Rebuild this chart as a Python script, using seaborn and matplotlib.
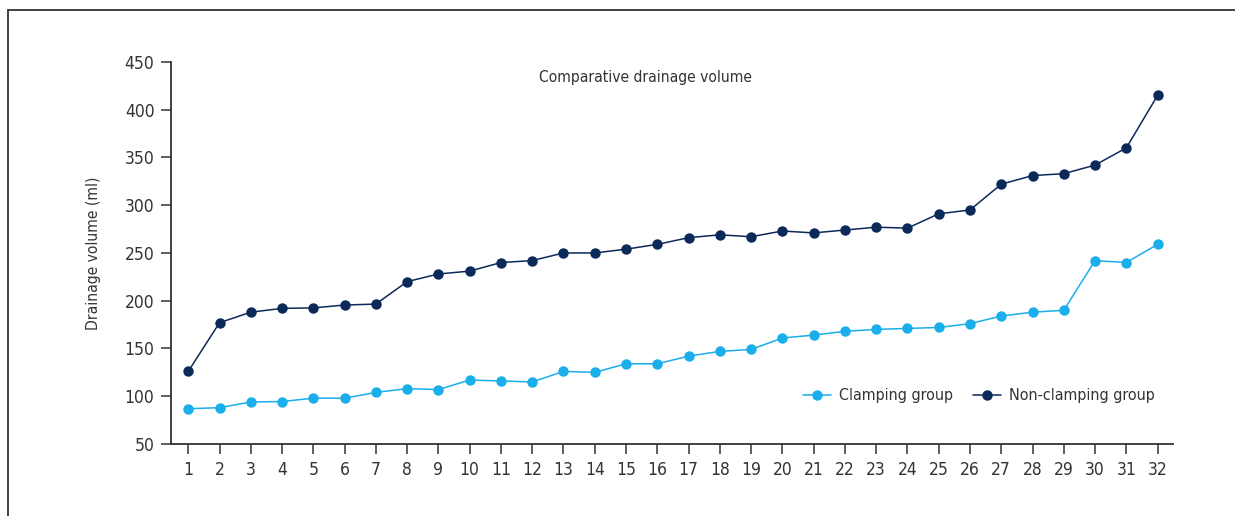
import matplotlib

matplotlib.use('Agg')
import matplotlib.pyplot as plt
import pandas as pd
import seaborn as sns
from matplotlib.lines import Line2D

patients = list(range(1, 33))
clamping = [87, 88, 94, 94.5, 98, 98, 104, 108, 107, 117, 116, 115, 126, 125, 134, 134,
            142, 147, 149, 161, 164, 168, 170, 171, 172, 176, 184, 188, 190, 242, 240, 259]
non_clamping = [126, 177, 188, 192, 192.5, 195.5, 196.5, 220, 228, 231, 240, 242, 250, 250, 254, 259,
                266, 269, 267, 273, 271, 274, 277, 276, 291, 295, 322, 331, 333, 342, 360, 415]
group_names = ['Clamping group', 'Non-clamping group']
colors = ['#1aaeea', '#0b2a5a']
y_ticks = [50, 100, 150, 200, 250, 300, 350, 400, 450]

df = pd.DataFrame({
    'patient': patients * 2,
    'volume': clamping + non_clamping,
    'group': [group_names[0]] * len(patients) + [group_names[1]] * len(patients),
})

sns.set_style('white')
plt.rcParams['font.family'] = ['DejaVu Sans']
plt.rcParams['font.stretch'] = 'condensed'
text_color = '#333333'

fig = plt.figure(figsize=(12.35, 5.16), dpi=100)
ax = fig.add_axes([0.1385, 0.1395, 0.8115, 0.7405])

sns.lineplot(data=df, x='patient', y='volume', hue='group', palette=colors,
             marker='o', markersize=7.5, markeredgewidth=0, linewidth=1.1, ax=ax, legend=False)

ax.set_xlim(0.45, 32.5)
ax.set_ylim(50, 450)
ax.set_xticks(patients)
ax.set_yticks(y_ticks)
ax.tick_params(axis='both', direction='out', length=7, width=1.1, colors=text_color,
               labelsize=12.5, pad=5)
ax.tick_params(axis='both', which='both', left=True, bottom=True)
for side in ['top', 'right']:
    ax.spines[side].set_visible(False)
for side in ['left', 'bottom']:
    ax.spines[side].set_color(text_color)
    ax.spines[side].set_linewidth(1.3)

ax.set_xlabel('')
ax.set_ylabel('Drainage volume (ml)', fontsize=11.2, color=text_color, labelpad=17)
ax.text(0.473, 0.96, 'Comparative drainage volume', transform=ax.transAxes,
        ha='center', va='center', fontsize=11.2, color=text_color)

handles = [Line2D([], [], color=c, marker='o', markersize=7.5, markeredgewidth=0, linewidth=1.1)
           for c in colors]
ax.legend(handles, group_names, ncol=2, frameon=False, loc='center',
          bbox_to_anchor=(0.806, 0.126), fontsize=11.5, handlelength=1.8,
          handletextpad=0.5, columnspacing=1.2, labelcolor=text_color)

fig.add_artist(Line2D([8 / 1235, 8 / 1235], [0, 1 - 10 / 516], color=text_color, linewidth=1.3))
fig.add_artist(Line2D([8 / 1235, 1], [1 - 10 / 516, 1 - 10 / 516], color=text_color, linewidth=1.3))

fig.savefig('out.png', dpi=100)
plt.close(fig)
